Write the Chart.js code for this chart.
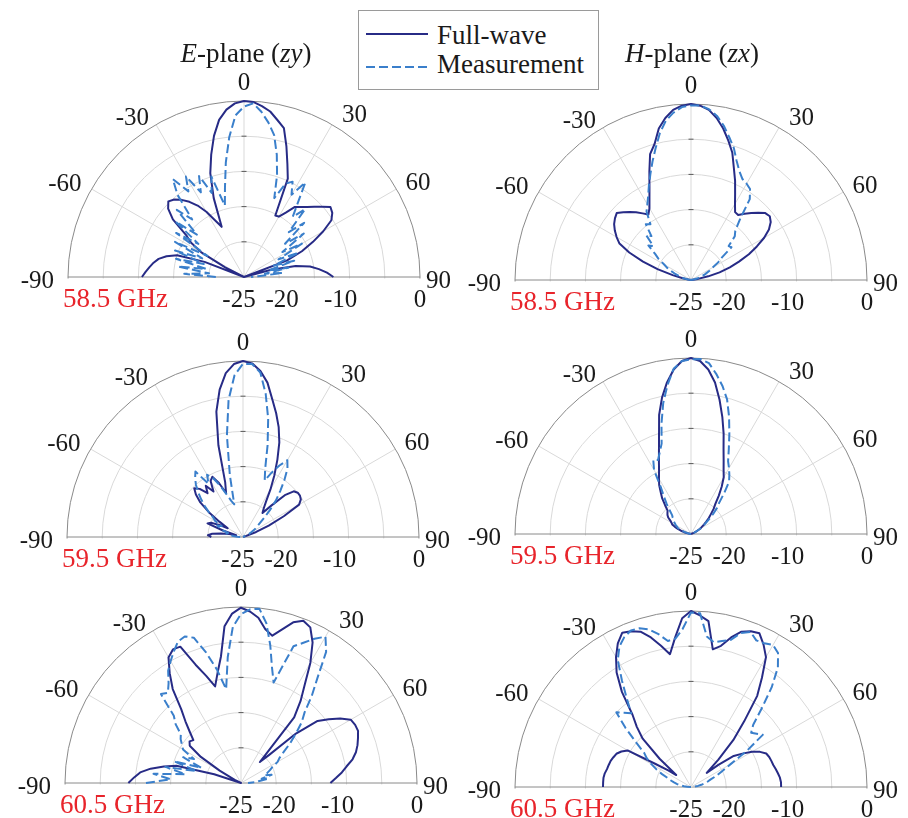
<!DOCTYPE html>
<html>
<head>
<meta charset="utf-8">
<script src="https://cdn.jsdelivr.net/npm/chart.js@4.4.0/dist/chart.umd.min.js"></script>
<style>
  html, body { margin: 0; padding: 0; background: #ffffff; }
  #fig { position: relative; width: 908px; height: 818px; overflow: hidden; background: #ffffff;
         font-family: "Liberation Serif", "Times New Roman", serif; color: #1a1a1a; }
  #fig canvas { position: absolute; }
  .txt { position: absolute; font-size: 27px; line-height: 27px; white-space: nowrap; }
  .num { position: absolute; font-size: 25px; line-height: 25px; white-space: nowrap; color: #1a1a1a; }
  .freq { position: absolute; font-size: 27px; line-height: 27px; white-space: nowrap; color: #e8242b; }
  .legend { position: absolute; left: 358px; top: 10px; width: 239px; height: 78px;
            border: 1px solid #9a9a9a; background: #ffffff; }
</style>
</head>
<body>
<div id="fig"></div>
<script>
// Angles (deg) at which each pattern is sampled, 0 = broadside, + clockwise
const angleDeg = [-90,-87,-84,-81,-78,-75,-72,-69,-66,-63,
                  -60,-57,-54,-51,-48,-45,-42,-39,-36,-33,
                  -30,-27,-24,-21,-18,-15,-12,-9,-6,-3,
                  0,3,6,9,12,15,18,21,24,27,
                  30,33,36,39,42,45,48,51,54,57,
                  60,63,66,69,72,75,78,81,84,87,
                  90];

// Normalised radiation patterns (dB)
const eSim585 = [-10.5,-11.0,-11.5,-12.0,-12.6,-13.6,-15.0,-19.0,-25,-22,
                 -18,-16,-14.8,-12.0,-10.5,-9.8,-10.2,-10.9,-11.8,-12.9,
                 -14.3,-16.0,-17.2,-13.0,-9.5,-7.0,-4.5,-2.4,-1.1,-0.3,
                 0,-0.1,-0.6,-1.2,-2.2,-3.1,-5.5,-7.8,-9.7,-15.2,
                 -15.1,-14.1,-12.7,-12.2,-11.6,-10.9,-10.1,-9.2,-9.5,-10.2,
                 -12.0,-14.0,-16.0,-18.5,-25,-21,-17.5,-15.5,-14.3,-13.2,
                 -12.3];
const eMeas585 = [-21,-16.5,-20,-15.5,-19.5,-15,-19,-14.5,-18.5,-14,
                  -19,-13.5,-17,-12.5,-16,-11.5,-14,-10.0,-7.8,-10.5,
                  -8.5,-11.5,-9.3,-12.2,-10.0,-14.5,-12,-8.5,-5.0,-2.0,
                  -0.8,-0.3,-1.4,-2.8,-4.4,-7.0,-9.8,-13.0,-10.5,-9.8,
                  -11.5,-9.0,-12.0,-14.0,-12.0,-16,-13.5,-17.5,-14.5,-18.5,
                  -15.5,-19.5,-16.5,-20.5,-17.5,-21.5,-18.5,-22.0,-19.5,-23.0,
                  -24];
const hSim585 = [-25,-25,-25,-24.6,-23.8,-22.3,-20.0,-17.7,-15.4,-13.6,
                 -12.8,-12.1,-11.5,-11.1,-10.8,-11.4,-12.0,-12.6,-13.3,-13.9,
                 -13.2,-12.0,-10.5,-8.5,-6.2,-5.0,-3.0,-1.7,-0.7,-0.2,
                 0,-0.2,-0.7,-1.7,-3.0,-4.5,-6.0,-8.0,-9.6,-11.2,
                 -12.5,-13.5,-13.6,-12.9,-12.2,-11.5,-10.8,-10.6,-11.0,-11.8,
                 -13.0,-14.5,-16.0,-17.7,-19.2,-20.8,-22.5,-24.0,-25,-25,
                 -25];
const hMeas585 = [-25,-25,-25,-24.6,-24.2,-23.6,-23.2,-22.6,-22.0,-21.2,
                  -20.6,-19.5,-18.7,-17.2,-17.8,-16.0,-16.6,-14.8,-15.2,-13.4,
                  -12.6,-11.6,-10.3,-8.9,-7.3,-5.6,-3.7,-2.1,-1.1,-0.4,
                  -0.2,-0.2,-0.6,-1.4,-2.6,-4.0,-5.3,-6.9,-8.1,-8.9,
                  -9.2,-9.6,-10.8,-14.0,-15.6,-16.2,-17.8,-17.6,-19.6,-20.4,
                  -21.4,-22.0,-22.6,-23.0,-23.6,-24.0,-24.5,-25,-25,-25,
                  -25];
const eSim595 = [-20.5,-20.0,-20.6,-21.8,-23.0,-24.0,-22.0,-19.6,-20.0,-21.2,
                 -22.5,-21.0,-19.0,-17.2,-16.0,-15.2,-15.8,-17.0,-16.0,-17.3,
                 -15.8,-15.4,-16.6,-18.3,-16.8,-11.5,-6.8,-3.8,-1.6,-0.4,
                 0,-0.3,-1.3,-2.8,-5.0,-6.8,-8.6,-10.6,-13.0,-15.2,
                 -17.2,-19.0,-20.0,-20.6,-19.0,-16.6,-15.3,-15.0,-15.0,-15.2,
                 -15.8,-18.5,-21.0,-23.0,-24.5,-25,-25,-25,-25,-25,
                 -25];
const eMeas595 = [-24.6,-24.2,-23.6,-23.2,-22.6,-22.8,-22.0,-21.6,-21.0,-21.6,
                  -20.4,-20.0,-19.0,-18.0,-17.0,-16.0,-15.0,-14.2,-13.5,-16.0,
                  -14.8,-15.6,-17.0,-18.5,-19.6,-20.2,-16.0,-10.4,-5.4,-2.0,
                  -0.4,-0.4,-1.5,-4.4,-7.8,-11.5,-14.8,-16.4,-15.0,-13.6,
                  -12.4,-13.4,-15.0,-16.6,-18.0,-19.6,-21.0,-22.0,-22.6,-23.0,
                  -23.6,-24.0,-24.6,-25,-25,-25,-25,-25,-25,-25,
                  -25];
const hSim595 = [-25,-25,-25,-25,-24.5,-24.0,-23.5,-23.0,-22.5,-22.0,
                 -21.8,-21.5,-21.0,-20.7,-20.5,-20.3,-19.5,-18.5,-17.7,-16.7,
                 -15.9,-15.0,-13.8,-12.3,-10.3,-7.5,-5.2,-3.2,-1.5,-0.4,
                 0,-0.4,-1.5,-3.2,-5.5,-7.8,-10.0,-12.1,-13.6,-14.8,
                 -15.7,-17.0,-18.3,-19.5,-20.2,-21.0,-21.6,-22.2,-22.7,-23.2,
                 -23.5,-24.0,-24.5,-25,-25,-25,-25,-25,-25,-25,
                 -25];
const hMeas595 = [-25,-25,-25,-25,-24.8,-24.5,-24.0,-23.5,-23.0,-22.8,
                  -22.5,-22.3,-22.0,-21.8,-21.5,-21.2,-20.5,-19.5,-18.5,-17.2,
                  -14.5,-13.2,-13.5,-12.6,-11.5,-8.8,-6.0,-3.6,-1.4,-0.4,
                  -0.2,-0.1,-0.6,-2.0,-3.5,-5.2,-7.5,-9.8,-11.8,-13.4,
                  -14.2,-15.0,-15.8,-17.5,-19.0,-19.8,-20.8,-21.8,-22.5,-23.0,
                  -23.5,-24.0,-24.5,-25,-25,-25,-25,-25,-25,-25,
                  -25];
const eSim605 = [-9.0,-9.8,-10.6,-12.0,-13.8,-15.5,-21.0,-25,-25,-24.0,
                 -21.5,-18.2,-16.0,-15.6,-15.9,-14.7,-13.2,-11.5,-8.5,-6.4,
                 -4.4,-3.7,-3.8,-7.0,-9.0,-10.8,-9.0,-6.8,-2.6,-0.9,
                 -0.1,-0.6,-1.4,-2.9,-3.6,-2.4,-1.0,-0.3,-0.8,-2.6,
                 -5.3,-8.4,-10.6,-13.0,-21.0,-19.4,-14.5,-11.0,-9.6,-8.2,
                 -7.0,-6.8,-6.8,-7.2,-7.6,-8.1,-8.8,-9.8,-10.6,-11.5,
                 -12.3];
const eMeas605 = [-11.5,-15.0,-12.5,-17.0,-14.0,-18.5,-15.0,-19.0,-16.0,-17.5,
                  -15.5,-15.0,-14.4,-14.0,-12.5,-11.5,-8.0,-8.5,-7.5,-6.0,
                  -5.0,-4.0,-3.0,-2.7,-3.3,-5.8,-8.5,-11.5,-7.0,-2.8,
                  -1.0,-0.3,-0.1,-2.0,-5.0,-8.0,-10.0,-4.2,-3.2,-2.0,
                  -1.0,-2.8,-6.5,-9.0,-11.5,-12.8,-14.5,-16.0,-17.5,-18.5,
                  -19.0,-20.0,-20.5,-21.0,-21.5,-20.5,-22.0,-21.0,-22.5,-23.0,
                  -24.0];
const hSim605 = [-12.5,-12.5,-12.5,-12.6,-12.8,-12.9,-13.0,-13.2,-13.4,-13.9,
                 -14.6,-19.0,-21.0,-22.3,-19.0,-15.3,-13.5,-11.8,-8.3,-5.6,
                 -3.7,-2.1,-1.0,-1.3,-1.8,-3.0,-4.5,-5.9,-3.6,-1.0,
                 0,-0.6,-1.3,-5.2,-4.5,-3.0,-1.8,-1.3,-1.1,-2.3,
                 -3.7,-6.5,-9.0,-13.0,-16.0,-19.5,-22.0,-20.0,-17.5,-16.3,
                 -15.0,-14.0,-13.3,-13.1,-13.0,-12.9,-12.7,-12.5,-12.3,-12.2,
                 -12.2];
const hMeas605 = [-25,-24.5,-24.0,-23.5,-23.0,-22.5,-22.0,-21.5,-20.5,-19.5,
                  -18.5,-17.5,-16.8,-15.0,-12.5,-10.0,-10.8,-11.5,-9.5,-7.0,
                  -4.2,-2.6,-1.7,-1.2,-1.3,-1.8,-2.8,-4.0,-3.8,-2.5,
                  -0.2,-0.3,-3.5,-4.2,-3.8,-3.4,-2.0,-1.4,-2.2,-2.1,
                  -1.7,-2.3,-4.0,-6.8,-10.0,-12.5,-13.5,-13.0,-12.4,-15.5,
                  -18.5,-20.0,-21.0,-22.0,-22.5,-23.0,-23.5,-24.0,-24.5,-25,
                  -25];

// Axis annotations
const angleTicks = [-90, -60, -30, 0, 30, 60, 90];
const radialTicks = [-25, -20, -10, 0];
const freqLabels = ['58.5 GHz', '59.5 GHz', '60.5 GHz'];
const seriesNames = ['Full-wave', 'Measurement'];

// ---- styling / layout ----
const SIM_COLOR = '#272b86';
const MEAS_COLOR = '#3a7fcb';
const CANVAS_W = 480, CANVAS_H = 420;
const PAD = { left: 64, right: 64, top: 44, bottom: 24 };
const CX0 = PAD.left + (CANVAS_W - PAD.left - PAD.right) / 2;
const CY0 = PAD.top + (CANVAS_H - PAD.top - PAD.bottom) / 2;
const ASCENT_25 = 20.9;   // baseline offset inside a 25px line box
const ASCENT_27 = 22.6;   // baseline offset inside a 27px line box

// offsets of the angle labels from the outer ring: [align, dx, baseline dy]
const angleLabelPlace = {
  '-90': ['right', -14, 11], '-60': ['right', -10, 2], '-30': ['right', -7, 0],
  '0': ['center', 0, -11], '30': ['left', 10, -3], '60': ['left', 9, 1], '90': ['left', 6, 11]
};
// horizontal nudges of the radial labels under the baseline
const radialLabelNudge = { '-25': -5, '-20': 3, '-10': -9, '0': 0 };

// radar scale: one label per STEP degrees around the full circle
const STEP = 3;
const N_LABELS = 360 / STEP;
const indexFor = (theta) => (((theta / STEP) % N_LABELS) + N_LABELS) % N_LABELS;
const radarLabels = Array.from({ length: N_LABELS }, (_, i) => {
  const t = i * STEP;
  return t <= 90 ? String(t) : (t >= 270 ? String(t - 360) : '');
});
function toRadar(values) {
  const out = new Array(N_LABELS).fill(null);
  angleDeg.forEach((t, k) => { out[indexFor(t)] = values[k]; });
  return out;
}
const spokeIdx = new Set(angleTicks.map(indexFor));
const edgeIdx = new Set([indexFor(-90), indexFor(90)]);

// only the upper half-plane of the radial scale is shown
const halfPolar = {
  id: 'halfPolar',
  beforeDraw(chart) {
    const r = chart.scales.r, ctx = chart.ctx;
    ctx.save();
    ctx.beginPath();
    ctx.rect(0, 0, chart.width, r.yCenter + 1.5);
    ctx.clip();
  },
  beforeDatasetsDraw(chart) {
    const r = chart.scales.r, ctx = chart.ctx;
    ctx.save();
    ctx.strokeStyle = '#5a5a5a';
    ctx.lineWidth = 1;
    [-20, -15, -10, -5].forEach(v => {
      const d = r.getDistanceFromCenterForValue(v);
      ctx.beginPath();
      ctx.moveTo(r.xCenter - 2.5, r.yCenter - d);
      ctx.lineTo(r.xCenter + 2.5, r.yCenter - d);
      ctx.stroke();
    });
    ctx.restore();
  },
  afterDraw(chart) {
    chart.ctx.restore();
  }
};

const panels = [
  { id: 'eP585', cx: 244, cy: 277, sim: eSim585, meas: eMeas585, freq: freqLabels[0] },
  { id: 'hP585', cx: 691, cy: 280, sim: hSim585, meas: hMeas585, freq: freqLabels[0] },
  { id: 'eP595', cx: 243, cy: 537, sim: eSim595, meas: eMeas595, freq: freqLabels[1] },
  { id: 'hP595', cx: 691, cy: 534, sim: hSim595, meas: hMeas595, freq: freqLabels[1] },
  { id: 'eP605', cx: 241, cy: 783, sim: eSim605, meas: eMeas605, freq: freqLabels[2] },
  { id: 'hP605', cx: 691, cy: 787, sim: hSim605, meas: hMeas605, freq: freqLabels[2] }
];

const fig = document.getElementById('fig');

function placeText(cls, text, x, baseline, align) {
  const d = document.createElement('div');
  d.className = cls;
  d.textContent = text;
  d.style.left = x + 'px';
  d.style.top = (baseline - (cls === 'num' ? ASCENT_25 : ASCENT_27)) + 'px';
  if (align === 'center') d.style.transform = 'translateX(-50%)';
  if (align === 'right') d.style.transform = 'translateX(-100%)';
  fig.appendChild(d);
}

function buildPanel(pn) {
  const cv = document.createElement('canvas');
  cv.id = pn.id;
  cv.width = CANVAS_W;
  cv.height = CANVAS_H;
  const offX = pn.cx - CX0, offY = pn.cy - CY0;
  cv.style.left = offX + 'px';
  cv.style.top = offY + 'px';
  fig.appendChild(cv);

  const chart = new Chart(cv, {
    type: 'radar',
    data: {
      labels: radarLabels,
      datasets: [
        { label: seriesNames[1], data: toRadar(pn.meas), borderColor: MEAS_COLOR, borderWidth: 2,
          borderDash: [9, 4], borderJoinStyle: 'round', fill: false, pointRadius: 0, clip: false },
        { label: seriesNames[0], data: toRadar(pn.sim), borderColor: SIM_COLOR, borderWidth: 2,
          borderJoinStyle: 'round', fill: false, pointRadius: 0, clip: false }
      ]
    },
    options: {
      responsive: false,
      animation: false,
      devicePixelRatio: 1,
      events: [],
      layout: { padding: PAD },
      elements: { line: { tension: 0 } },
      plugins: { legend: { display: false }, tooltip: { enabled: false } },
      scales: {
        r: {
          min: -25, max: 0,
          startAngle: 0,
          ticks: { display: false, stepSize: 5 },
          pointLabels: { display: false },
          grid: {
            circular: true,
            color: (c) => (c.tick && c.tick.value === 0) ? '#8a8a8a' : '#d9d9d9',
            lineWidth: 1
          },
          angleLines: {
            display: true,
            color: (c) => edgeIdx.has(c.index) ? '#8a8a8a' : '#d9d9d9',
            lineWidth: (c) => spokeIdx.has(c.index) ? 1 : 0
          }
        }
      }
    },
    plugins: [halfPolar]
  });

  // axis annotations positioned from the radial scale
  const r = chart.scales.r;
  angleTicks.forEach(t => {
    const p = r.getPointPositionForValue(indexFor(t), r.max);
    const [align, dx, dy] = angleLabelPlace[String(t)];
    placeText('num', String(t), offX + p.x + dx, offY + p.y + dy, align);
  });
  radialTicks.forEach(v => {
    const d = r.getDistanceFromCenterForValue(v);
    placeText('num', String(v), offX + r.xCenter + d + radialLabelNudge[String(v)], offY + r.yCenter + 30, 'center');
  });
  placeText('freq', pn.freq, offX + r.xCenter - 181, offY + r.yCenter + 31, 'left');
}

panels.forEach(buildPanel);

// titles
function addTitle(html, x, baseline) {
  const d = document.createElement('div');
  d.className = 'txt';
  d.innerHTML = html;
  d.style.left = x + 'px';
  d.style.top = (baseline - ASCENT_27) + 'px';
  d.style.transform = 'translateX(-50%)';
  fig.appendChild(d);
}
addTitle('<i>E</i>-plane (<i>zy</i>)', 246, 63);
addTitle('<i>H</i>-plane (<i>zx</i>)', 692, 63);

// legend
const lg = document.createElement('div');
lg.className = 'legend';
lg.innerHTML =
  '<svg width="239" height="78" style="position:absolute;left:0;top:0">' +
  '<line x1="7" y1="23" x2="69" y2="23" stroke="' + SIM_COLOR + '" stroke-width="2"/>' +
  '<line x1="7" y1="56" x2="69" y2="56" stroke="' + MEAS_COLOR + '" stroke-width="2" stroke-dasharray="9,4"/>' +
  '</svg>';
fig.appendChild(lg);
placeText('txt', seriesNames[0], 437, 45, 'left');
placeText('txt', seriesNames[1], 437, 74, 'left');
</script>
</body>
</html>
